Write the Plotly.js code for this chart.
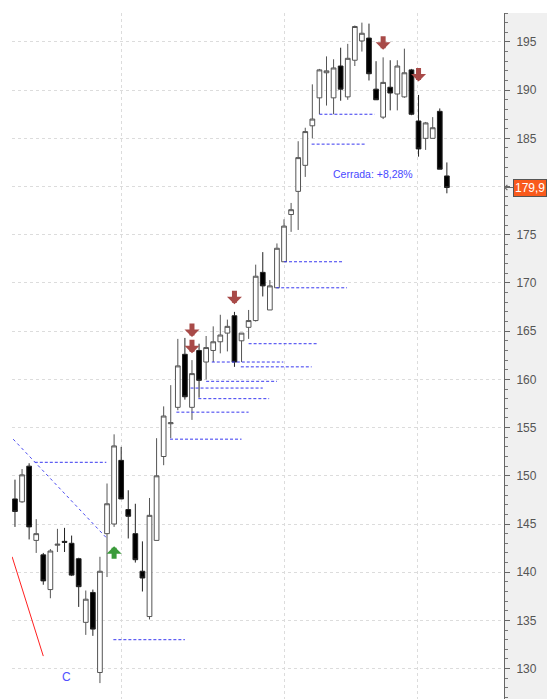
<!DOCTYPE html>
<html>
<head>
<meta charset="utf-8">
<script src="https://cdn.plot.ly/plotly-3.0.1.min.js"></script>
<style>html,body{margin:0;padding:0;background:#fff;}#chart{width:547px;height:699px;}</style>
</head>
<body>
<div id="chart"></div>
<script>
// ---- Candle data (session index order) ----
const opens  = [147.6,147.3,151.0,143.3,141.8,138.2,142.8,143.2,143.0,141.4,134.8,137.9,129.6,144.0,145.0,151.6,146.5,144.0,140.1,135.4,143.3,152.0,155.4,157.1,162.6,157.1,163.0,161.8,163.0,163.9,164.8,166.6,164.0,165.4,166.1,171.1,167.2,169.5,172.2,177.1,179.5,182.2,186.3,189.2,191.8,189.2,192.5,189.3,193.1,195.1,195.4,190.1,187.2,190.3,189.6,189.3,192.1,186.8,185.0,185.0,187.8,181.1];
const highs  = [149.6,150.7,151.3,145.5,142.0,142.4,144.5,144.6,143.8,141.5,138.1,138.2,141.6,149.2,154.3,153.0,148.5,147.1,143.2,147.7,153.9,157.2,159.4,164.2,164.3,162.0,163.7,164.5,165.5,166.7,166.2,167.0,164.8,167.2,171.9,173.2,170.3,174.1,176.6,178.3,184.7,186.1,190.6,192.2,193.5,193.2,194.4,194.8,196.7,197.0,196.9,193.0,193.4,193.1,193.1,194.3,192.2,189.5,186.7,187.2,188.1,182.5];
const lows   = [144.7,147.2,143.4,142.0,138.7,137.3,142.1,142.1,139.6,136.4,133.5,133.4,128.5,139.5,144.7,147.6,143.5,141.0,138.0,135.1,143.3,151.1,153.9,156.8,157.9,155.8,158.1,160.0,161.8,162.7,162.9,161.3,161.8,164.2,166.0,168.6,167.2,169.5,172.2,175.3,175.5,181.0,185.0,187.5,188.4,187.5,188.9,189.0,192.5,194.0,191.0,189.0,187.0,187.9,187.9,189.2,187.4,183.1,183.8,185.0,181.8,179.3];
const closes = [146.3,150.1,144.7,144.0,139.1,142.2,142.9,143.1,139.7,138.5,137.2,134.1,140.1,147.1,153.1,147.6,145.8,141.3,139.4,145.9,150.0,156.2,155.5,161.4,158.2,160.6,159.9,163.3,163.9,164.6,165.5,161.8,164.8,166.1,170.7,169.7,169.7,173.6,175.9,177.6,183.0,185.7,187.0,192.1,192.0,192.3,190.1,193.3,196.6,195.9,191.7,189.0,190.8,189.7,192.5,191.8,187.5,183.9,186.6,186.1,181.8,179.9];

// month boundaries (session index)
const monthStarts = [15, 38, 56.8];

// price axis tick values
const priceTicks = [130,135,140,145,150,155,160,165,170,175,180,185,190,195];

// support levels (blue dashed): level, start session, end session
const supportLevel = [151.4,133.0,153.8,156.6,159.1,158.0,159.8,161.8,161.3,163.7,169.5,172.2,184.4,187.5];
const supportStart = [2.8,13.9,21.9,22.8,24.8,25.9,27.0,27.8,31.9,33.0,36.9,38.0,41.9,43.0];
const supportEnd   = [12.9,24.0,32.0,33.0,35.0,35.9,37.0,37.9,41.9,42.8,46.9,46.4,49.6,50.8];

// trend line (blue dashed) and red line
const trendX = [-0.25, 13.0];
const trendY = [153.8, 143.5];
const redX = [-0.4, 4.0];
const redY = [141.6, 131.3];

// signals
const sellIdx = [25, 25, 31, 52, 57];
const sellPrice = [164.4, 162.7, 167.8, 194.2, 190.9];
const buyIdx = [14];
const buyPrice = [142.7];

// labels
const waveLabel = {idx: 7.3, price: 129.1, text: 'C'};
const resultLabel = {idx: 44.6, price: 181.3, text: 'Cerrada: +8,28%'};

const xs = opens.map((_, i) => i);
const last = closes[closes.length - 1];

// build support line trace with gaps
const sx = [], sy = [];
supportLevel.forEach((lv, i) => {
  sx.push(supportStart[i], supportEnd[i], null);
  sy.push(lv, lv, null);
});

const traces = [
  {type: 'scatter', mode: 'lines', x: sx, y: sy, hoverinfo: 'skip',
   line: {color: '#3838f0', width: 1, dash: '3px,2px'}},
  {type: 'scatter', mode: 'lines', x: trendX, y: trendY, hoverinfo: 'skip',
   line: {color: '#4a4af0', width: 1, dash: '3px,3px'}},
  {type: 'scatter', mode: 'lines', x: redX, y: redY, hoverinfo: 'skip',
   line: {color: '#ff2020', width: 1}},
  {type: 'candlestick', x: xs, open: opens, high: highs, low: lows, close: closes,
   whiskerwidth: 0, hoverinfo: 'skip',
   increasing: {line: {color: '#555555', width: 1}, fillcolor: '#ffffff'},
   decreasing: {line: {color: '#222222', width: 1}, fillcolor: '#000000'}}
];

const ann = [];
sellIdx.forEach((xi, i) => {
  ann.push({x: xi, y: sellPrice[i], xref: 'x', yref: 'y', text: '', showarrow: true,
    ax: 0, ay: -15, arrowhead: 1, arrowsize: 0.5, arrowwidth: 5, arrowcolor: '#a84a48', standoff: 0});
});
buyIdx.forEach((xi, i) => {
  ann.push({x: xi, y: buyPrice[i], xref: 'x', yref: 'y', text: '', showarrow: true,
    ax: 0, ay: 14, arrowhead: 1, arrowsize: 0.5, arrowwidth: 5, arrowcolor: '#3a9a3a', standoff: 0});
});
ann.push({x: waveLabel.idx, y: waveLabel.price, xref: 'x', yref: 'y', text: waveLabel.text,
  showarrow: false, font: {family: 'Liberation Sans, Arial, sans-serif', size: 12, color: '#5050ff'}});
ann.push({x: resultLabel.idx, y: resultLabel.price, xref: 'x', yref: 'y', text: resultLabel.text,
  xanchor: 'left', showarrow: false, font: {family: 'Liberation Sans, Arial, sans-serif', size: 10.5, color: '#4848ff'}});
ann.push({x: 1, y: last, xref: 'paper', yref: 'y', text: last.toFixed(1).replace('.', ','),
  showarrow: true, ax: 26, ay: 0, arrowhead: 4, arrowsize: 1, arrowwidth: 1, arrowcolor: '#666',
  bgcolor: '#f95a1c', bordercolor: '#555', borderwidth: 1, borderpad: 1,
  font: {family: 'Liberation Sans, Arial, sans-serif', size: 12, color: '#ffffff'}});

// the current-price box hides the nearest tick label
const tickText = priceTicks.map(v => Math.abs(v - last) < 2.5 ? '' : String(v));

const layout = {
  width: 547, height: 699,
  margin: {l: 12, r: 43, t: 13, b: 0, pad: 0},
  paper_bgcolor: '#ffffff', plot_bgcolor: '#ffffff',
  showlegend: false,
  boxgap: 0.05, boxgroupgap: 0.3,
  xaxis: {range: [-0.42, 69.07], tickvals: monthStarts, showticklabels: false, ticks: '',
    showgrid: true, gridcolor: '#dcdcdc', griddash: '3px,3px', gridwidth: 1,
    zeroline: false, showline: false, rangeslider: {visible: false}, fixedrange: true},
  yaxis: {side: 'right', range: [126.85, 198.0], tickvals: priceTicks, ticktext: tickText,
    showgrid: true, gridcolor: '#dcdcdc', griddash: '3px,3px', gridwidth: 1,
    ticks: 'outside', ticklen: 5, tickcolor: '#666', tickwidth: 1,
    showline: true, linecolor: '#666', linewidth: 1, zeroline: false,
    ticklabelstandoff: 4,
    tickfont: {family: 'Liberation Sans, Arial, sans-serif', size: 12, color: '#555'},
    minor: {dtick: 1, ticks: 'outside', ticklen: 3, tickcolor: '#777', showgrid: false}},
  shapes: [{type: 'rect', xref: 'paper', yref: 'paper', x0: 1, x1: 1.09, y0: 0, y1: 1,
    fillcolor: '#f0f0f0', line: {width: 0}, layer: 'below'}],
  annotations: ann
};

Plotly.newPlot('chart', traces, layout, {displayModeBar: false, staticPlot: true});
</script>
</body>
</html>
